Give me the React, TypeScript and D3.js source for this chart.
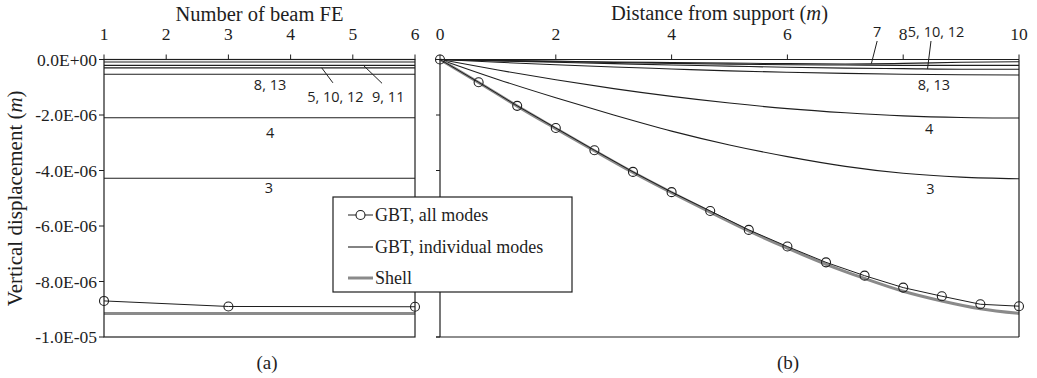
import React from 'react';
import * as d3 from 'd3';

// ---------- data ----------
const feTicks = [1, 2, 3, 4, 5, 6];
const yTicks = [0, -2e-6, -4e-6, -6e-6, -8e-6, -1e-5];
const yTickLabels = ['0.0E+00', '-2.0E-06', '-4.0E-06', '-6.0E-06', '-8.0E-06', '-1.0E-05'];
const distTicks = [0, 2, 4, 6, 8, 10];

// panel (a): displacement vs number of beam FE
const feAllModesN = [1, 3, 6];
const feAllModesW = [-8.70e-6, -8.90e-6, -8.91e-6];
const feShellN = [1, 6];
const feShellW = [-9.15e-6, -9.15e-6];
const feModeLabels = ['3', '4', '8, 13', '5, 10, 12', '9, 11', '7'];
const feModeW = [-4.28e-6, -2.10e-6, -0.53e-6, -0.30e-6, -0.21e-6, -0.09e-6];

// panel (b): displacement vs distance from support
const distSamples = [0, 1, 2, 3, 4, 5, 6, 7, 8, 9, 10];
const mode3W = [0, -0.72, -1.38, -2.0, -2.58, -3.08, -3.5, -3.85, -4.1, -4.24, -4.3].map(v => v * 1e-6);
const mode4W = [0, -0.38, -0.73, -1.05, -1.33, -1.57, -1.77, -1.92, -2.03, -2.09, -2.11].map(v => v * 1e-6);
const mode8W = [0, -0.1, -0.19, -0.27, -0.34, -0.41, -0.46, -0.5, -0.53, -0.55, -0.56].map(v => v * 1e-6);
const mode5W = [0, -0.05, -0.1, -0.15, -0.2, -0.24, -0.28, -0.31, -0.33, -0.35, -0.35].map(v => v * 1e-6);
const mode9W = [0, -0.04, -0.08, -0.11, -0.14, -0.17, -0.19, -0.2, -0.21, -0.21, -0.21].map(v => v * 1e-6);
const mode7W = [0, -0.03, -0.06, -0.09, -0.11, -0.13, -0.15, -0.16, -0.14, -0.1, -0.08].map(v => v * 1e-6);

const allModesX = [0, 0.667, 1.333, 2, 2.667, 3.333, 4, 4.667, 5.333, 6, 6.667, 7.333, 8, 8.667, 9.333, 10];
const allModesW = [0, -0.82, -1.67, -2.47, -3.27, -4.05, -4.78, -5.46, -6.14, -6.74, -7.31, -7.79, -8.22, -8.53, -8.82, -8.89].map(v => v * 1e-6);
const shellW = [0, -0.83, -1.68, -2.49, -3.29, -4.07, -4.80, -5.50, -6.18, -6.80, -7.38, -7.89, -8.35, -8.70, -8.98, -9.15].map(v => v * 1e-6);

const legendLabels = ['GBT, all modes', 'GBT, individual modes', 'Shell'];

// ---------- layout ----------
const W = 1037, H = 378;
const SERIF = '"Liberation Serif", "DejaVu Serif", serif';
const SANS = '"Open Sans", "Noto Sans", sans-serif';
const INK = '#1e1e1e';
const SHELL = '#8a8a8a';
const LBL = 14.5;

const yS = d3.scaleLinear().domain([0, -1e-5]).range([59.5, 337]);
const xA = d3.scaleLinear().domain([1, 6]).range([104, 415]);
const xB = d3.scaleLinear().domain([0, 10]).range([440, 1019]);

const interpAt = (xs: number[], ys: number[], x: number) => {
  const i = Math.max(1, d3.bisectLeft(xs, x));
  const t = (x - xs[i - 1]) / (xs[i] - xs[i - 1]);
  return ys[i - 1] + t * (ys[i] - ys[i - 1]);
};

export default function App() {
  const lineA = d3.line<[number, number]>().x(d => xA(d[0])).y(d => yS(d[1]));
  const lineB = d3.line<[number, number]>().x(d => xB(d[0])).y(d => yS(d[1])).curve(d3.curveMonotoneX);
  const lineBLin = d3.line<[number, number]>().x(d => xB(d[0])).y(d => yS(d[1]));

  const modeCurves = [mode3W, mode4W, mode8W, mode5W, mode9W, mode7W];
  const [y0, y1] = yS.range();

  const w7 = interpAt(distSamples, mode7W, 7.45);
  const w5 = interpAt(distSamples, mode5W, 8.42);

  return (
    <div style={{ position: 'absolute', left: 0, top: 0 }}>
      <svg width={W} height={H} viewBox={`0 0 ${W} ${H}`} style={{ display: 'block', background: '#fff' }}>
        {/* ---------------- Panel (a) ---------------- */}
        <g>
          {feModeW.map((w, i) => (
            <path key={'fa' + i} d={lineA([[1, w], [6, w]]) || ''} fill="none" stroke={INK} strokeWidth={1.1} />
          ))}
          <path d={lineA(feShellN.map((n, i) => [n, feShellW[i]]) as [number, number][]) || ''} fill="none" stroke={SHELL} strokeWidth={3} />
          <path d={lineA(feAllModesN.map((n, i) => [n, feAllModesW[i]]) as [number, number][]) || ''} fill="none" stroke={INK} strokeWidth={1} />
          {feAllModesN.map((n, i) => (
            <circle key={'fc' + i} cx={xA(n)} cy={yS(feAllModesW[i])} r={4.5} fill="none" stroke={INK} strokeWidth={1.1} />
          ))}
          <rect x={xA(1)} y={y0} width={xA(6) - xA(1)} height={y1 - y0} fill="none" stroke={INK} strokeWidth={1.2} />
          {feTicks.map(t => (
            <g key={'ta' + t}>
              <line x1={xA(t)} x2={xA(t)} y1={y0} y2={y0 - 5} stroke={INK} strokeWidth={1} />
              <text x={xA(t)} y={40} textAnchor="middle" fontFamily={SERIF} fontSize={17.5} fill={INK}>{t}</text>
            </g>
          ))}
          {yTicks.map((t, i) => (
            <g key={'ya' + i}>
              <line x1={xA(1) - 5} x2={xA(1)} y1={yS(t)} y2={yS(t)} stroke={INK} strokeWidth={1} />
              <text x={xA(1) - 7} y={yS(t) + 6} textAnchor="end" fontFamily={SERIF} fontSize={17.5} fill={INK}>{yTickLabels[i]}</text>
            </g>
          ))}
          <text x={(xA(1) + xA(6)) / 2} y={21} textAnchor="middle" fontFamily={SERIF} fontSize={20.5} fill={INK}>Number of beam FE</text>
          {/* mode labels */}
          <text x={xA(3.67)} y={yS(feModeW[2]) + 16} textAnchor="middle" fontFamily={SANS} fontSize={LBL} fill={INK}>{feModeLabels[2]}</text>
          <text x={xA(4.72)} y={yS(feModeW[3]) + 34} textAnchor="middle" fontFamily={SANS} fontSize={LBL} fill={INK}>{feModeLabels[3]}</text>
          <line x1={xA(4.5)} y1={yS(feModeW[3])} x2={xA(4.68)} y2={yS(feModeW[3]) + 15} stroke={INK} strokeWidth={1} />
          <text x={xA(5.57)} y={yS(feModeW[4]) + 37} textAnchor="middle" fontFamily={SANS} fontSize={LBL} fill={INK}>{feModeLabels[4]}</text>
          <line x1={xA(5.17)} y1={yS(feModeW[4])} x2={xA(5.47)} y2={yS(feModeW[4]) + 18} stroke={INK} strokeWidth={1} />
          <text x={xA(3.67)} y={yS(feModeW[1]) + 20} textAnchor="middle" fontFamily={SANS} fontSize={LBL} fill={INK}>{feModeLabels[1]}</text>
          <text x={xA(3.65)} y={yS(feModeW[0]) + 15} textAnchor="middle" fontFamily={SANS} fontSize={LBL} fill={INK}>{feModeLabels[0]}</text>
        </g>

        {/* ---------------- Panel (b) ---------------- */}
        <g>
          {modeCurves.map((c, i) => (
            <path key={'mb' + i} d={lineB(distSamples.map((x, j) => [x, c[j]]) as [number, number][]) || ''} fill="none" stroke={INK} strokeWidth={1.1} />
          ))}
          <path d={lineB(allModesX.map((x, j) => [x, shellW[j]]) as [number, number][]) || ''} fill="none" stroke={SHELL} strokeWidth={3} />
          <path d={lineBLin(allModesX.map((x, j) => [x, allModesW[j]]) as [number, number][]) || ''} fill="none" stroke={INK} strokeWidth={1} />
          {allModesX.map((x, j) => (
            <circle key={'cb' + j} cx={xB(x)} cy={yS(allModesW[j])} r={4.5} fill="none" stroke={INK} strokeWidth={1.1} />
          ))}
          <line x1={xB(0)} x2={xB(10)} y1={y0} y2={y0} stroke={INK} strokeWidth={1.2} />
          <line x1={xB(0) - 4} x2={xB(10)} y1={y1} y2={y1} stroke={INK} strokeWidth={1.2} />
          <line x1={xB(0)} x2={xB(0)} y1={y0} y2={y1} stroke={INK} strokeWidth={1.2} />
          <line x1={xB(10)} x2={xB(10)} y1={y0} y2={y1} stroke={INK} strokeWidth={1.2} />
          {distTicks.map(t => (
            <g key={'tb' + t}>
              <line x1={xB(t)} x2={xB(t)} y1={y0} y2={y0 - 5} stroke={INK} strokeWidth={1} />
              <text x={xB(t)} y={40} textAnchor="middle" fontFamily={SERIF} fontSize={17.5} fill={INK}>{t}</text>
            </g>
          ))}
          {yTicks.map((t, i) => (
            <line key={'yb' + i} x1={xB(0) - 4} x2={xB(0)} y1={yS(t)} y2={yS(t)} stroke={INK} strokeWidth={1} />
          ))}
          <text x={(xB(0) + xB(10)) / 2 - 10} y={20} textAnchor="middle" fontFamily={SERIF} fontSize={20.5} fill={INK}>
            Distance from support (<tspan fontStyle="italic">m</tspan>)
          </text>
          <text x={xB(8.53)} y={yS(mode8W[10]) + 15} textAnchor="middle" fontFamily={SANS} fontSize={LBL} fill={INK}>8, 13</text>
          <text x={xB(8.45)} y={yS(mode4W[10]) + 16} textAnchor="middle" fontFamily={SANS} fontSize={LBL} fill={INK}>4</text>
          <text x={xB(8.47)} y={yS(mode3W[10]) + 15} textAnchor="middle" fontFamily={SANS} fontSize={LBL} fill={INK}>3</text>
          <text x={xB(7.55)} y={37} textAnchor="middle" fontFamily={SANS} fontSize={LBL} fill={INK}>7</text>
          <line x1={xB(7.55)} y1={41} x2={xB(7.45)} y2={yS(w7)} stroke={INK} strokeWidth={1} />
          <text x={xB(8.08)} y={37} textAnchor="start" fontFamily={SANS} fontSize={LBL} fill={INK}>5, 10, 12</text>
          <line x1={xB(8.48)} y1={41} x2={xB(8.42)} y2={yS(w5)} stroke={INK} strokeWidth={1} />
        </g>

        {/* y axis title */}
        <text transform={`translate(22,${(y0 + y1) / 2}) rotate(-90)`} textAnchor="middle" fontFamily={SERIF} fontSize={21} fill={INK}>
          Vertical displacement (<tspan fontStyle="italic">m</tspan>)
        </text>

        {/* legend */}
        <g>
          <rect x={333} y={197} width={239} height={95} fill="#fff" stroke={INK} strokeWidth={1.2} />
          <line x1={348} x2={373} y1={215} y2={215} stroke={INK} strokeWidth={1} />
          <circle cx={360.5} cy={215} r={4.5} fill="#fff" stroke={INK} strokeWidth={1.1} />
          <text x={375} y={221} fontFamily={SERIF} fontSize={18} fill={INK}>{legendLabels[0]}</text>
          <line x1={348} x2={373} y1={247} y2={247} stroke={INK} strokeWidth={1.1} />
          <text x={375} y={253} fontFamily={SERIF} fontSize={18} fill={INK}>{legendLabels[1]}</text>
          <line x1={348} x2={373} y1={278} y2={278} stroke={SHELL} strokeWidth={3} />
          <text x={375} y={284} fontFamily={SERIF} fontSize={18} fill={INK}>{legendLabels[2]}</text>
        </g>

        <text x={267} y={369} textAnchor="middle" fontFamily={SERIF} fontSize={19} fill={INK}>(a)</text>
        <text x={788} y={369} textAnchor="middle" fontFamily={SERIF} fontSize={19} fill={INK}>(b)</text>
      </svg>
    </div>
  );
}
